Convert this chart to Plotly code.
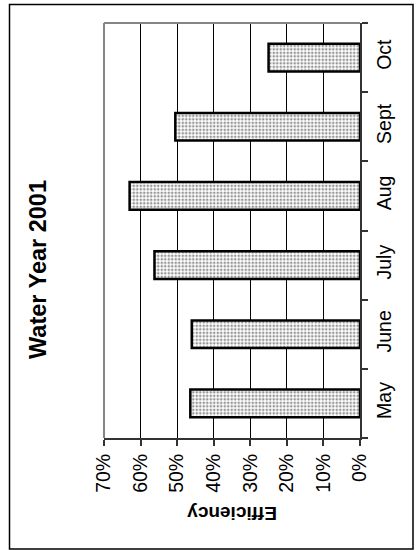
import plotly.graph_objects as go

# Monthly efficiency, water year 2001
months = ["May", "June", "July", "Aug", "Sept", "Oct"]
efficiency = [46.4, 46.0, 56.2, 63.0, 50.5, 25.0]
eff_ticks = [0, 10, 20, 30, 40, 50, 60, 70]
eff_tick_labels = [f"{v}%" for v in eff_ticks]

W, H = 417, 550
ML, MR, MT, MB = 104, 57, 23, 112
PW, PH = W - ML - MR, H - MT - MB


def px_x(x):
    return (x - ML) / PW


def px_y(y):
    return (H - MB - y) / PH


FONT = "Liberation Sans, Arial, sans-serif"

fig = go.Figure(
    go.Bar(
        x=efficiency,
        y=months,
        orientation="h",
        marker=dict(
            color="white",
            line=dict(color="black", width=2.5),
            pattern=dict(shape=".", fgcolor="#2e2e2e", bgcolor="white",
                         size=3.5, solidity=0.45),
        ),
        hoverinfo="x+y",
    )
)

fig.update_layout(
    width=W,
    height=H,
    margin=dict(l=ML, r=MR, t=MT, b=MB, pad=0),
    paper_bgcolor="white",
    plot_bgcolor="white",
    bargap=0.6,
    showlegend=False,
    font=dict(family=FONT, size=19, color="black"),
    xaxis=dict(
        range=[70, 0],
        tickvals=eff_ticks,
        ticktext=eff_tick_labels,
        tickangle=-90,
        ticks="outside",
        ticklen=6,
        tickwidth=1.5,
        tickcolor="#333333",
        showgrid=True,
        gridcolor="black",
        gridwidth=1,
        zeroline=False,
        showline=True,
        linecolor="#333333",
        linewidth=2,
        tickfont=dict(family=FONT, size=19.5),
    ),
    yaxis=dict(
        side="right",
        categoryorder="array",
        categoryarray=months,
        tickangle=-90,
        ticks="outside",
        tickson="boundaries",
        ticklen=6,
        tickwidth=1.5,
        tickcolor="#333333",
        ticklabelstandoff=6,
        showgrid=False,
        zeroline=False,
        showline=True,
        linecolor="#333333",
        linewidth=2,
        tickfont=dict(family=FONT, size=19.5),
    ),
    shapes=[
        # plot frame (left and top edges)
        dict(type="line", xref="paper", yref="paper", x0=0, x1=0, y0=0, y1=1,
             line=dict(color="#858585", width=2)),
        dict(type="line", xref="paper", yref="paper", x0=0, x1=1, y0=1, y1=1,
             line=dict(color="#858585", width=2)),
        # chart border
        dict(type="rect", xref="paper", yref="paper",
             x0=px_x(9.5), x1=px_x(413), y0=px_y(549), y1=px_y(4.5),
             line=dict(color="black", width=1.5), fillcolor="rgba(0,0,0,0)"),
    ],
    annotations=[
        dict(text="<b>Water Year 2001</b>", xref="paper", yref="paper",
             x=px_x(38), y=px_y(270), showarrow=False, textangle=-90,
             font=dict(family=FONT, size=23.5, color="black"),
             xanchor="center", yanchor="middle"),
        dict(text="<b>Efficiency</b>", xref="paper", yref="paper",
             x=px_x(232), y=px_y(514), showarrow=False, textangle=180,
             font=dict(family=FONT, size=19, color="black"),
             xanchor="center", yanchor="middle"),
    ],
)

fig.write_html("out.html")
